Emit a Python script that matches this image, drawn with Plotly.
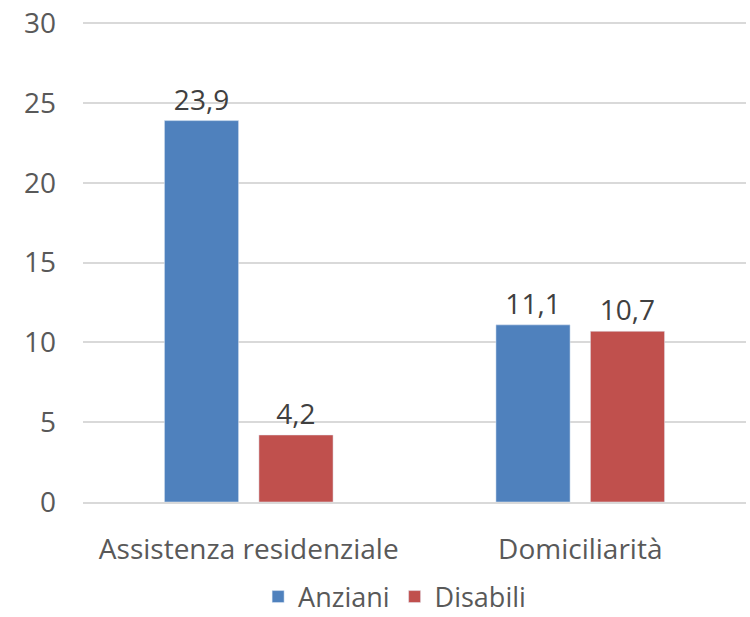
import plotly.graph_objects as go

categories = ["Assistenza residenziale", "Domiciliarità"]
anziani = [23.9, 11.1]
disabili = [4.2, 10.7]
y_ticks = [0, 5, 10, 15, 20, 25, 30]

FONT = "Open Sans, sans-serif"
GREY = "#595959"
SIZE = 28

fig = go.Figure()
fig.add_trace(go.Bar(name="Anziani", x=categories, y=anziani,
                     marker_color="#4F81BD", text=anziani,
                     texttemplate="%{y:.1f}", textposition="outside",
                     textfont=dict(size=SIZE, color="#404040"), cliponaxis=False))
fig.add_trace(go.Bar(name="Disabili", x=categories, y=disabili,
                     marker_color="#C0504D", text=disabili,
                     texttemplate="%{y:.1f}", textposition="outside",
                     textfont=dict(size=SIZE, color="#404040"), cliponaxis=False))

fig.update_layout(
    width=750, height=617,
    separators=",.",
    barmode="group", bargap=0.43, bargroupgap=0.215,
    plot_bgcolor="white", paper_bgcolor="white",
    font=dict(family=FONT, size=SIZE, color=GREY),
    margin=dict(l=83, r=4, t=22, b=115, autoexpand=False),
    legend=dict(orientation="h", x=0.47, xanchor="center", y=-0.198,
                yanchor="middle", font=dict(size=27, color=GREY),
                itemwidth=30, traceorder="normal"),
    # range a hair above 30 so the top gridline isn't dropped at the edge
    yaxis=dict(range=[0, 30.08], tickvals=y_ticks,
               showgrid=True, gridcolor="#D9D9D9",
               gridwidth=1.5, zeroline=False, showline=False, automargin=False,
               ticks="", ticklabelstandoff=26),
    xaxis=dict(showline=True, linecolor="#D9D9D9", linewidth=1.5, automargin=False,
               ticks="", ticklabelstandoff=22),
)

# drop the default 8px body margin so the figure fills the window
fig.write_html("out.html", config={"displayModeBar": False},
               post_script="document.body.style.margin='0';")
